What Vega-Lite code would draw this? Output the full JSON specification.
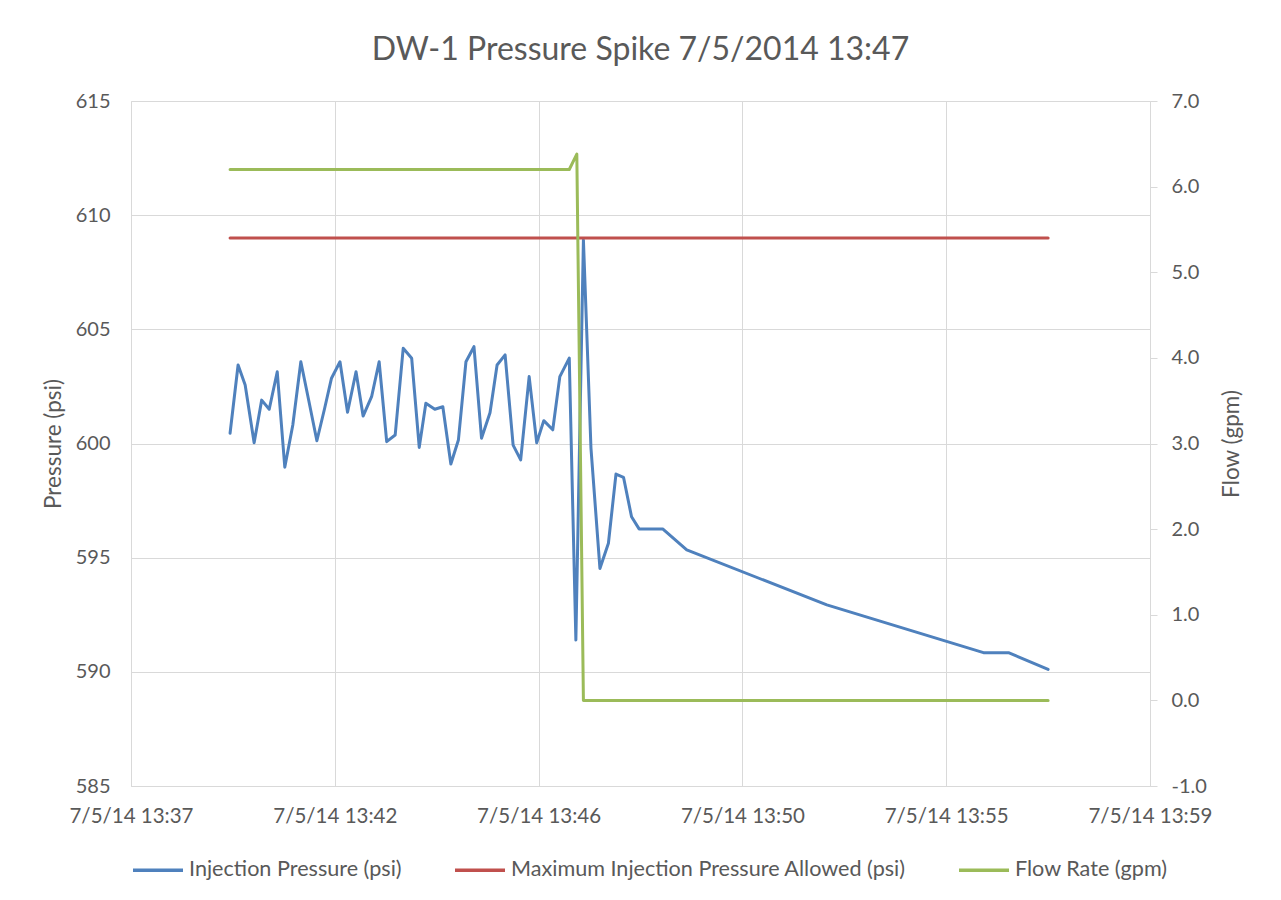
{
  "$schema": "https://vega.github.io/schema/vega-lite/v6.json",
  "width": 1019,
  "height": 685,
  "autosize": {"type": "none"},
  "padding": {"left": 131, "top": 101, "right": 131, "bottom": 114},
  "background": "white",
  "title": {
    "text": "DW-1 Pressure Spike 7/5/2014 13:47",
    "font": "Lato",
    "fontSize": 32,
    "fontWeight": "normal",
    "color": "#595959",
    "anchor": "middle",
    "offset": 24
  },
  "data": {
    "values": [
      {"series": "Injection Pressure (psi)", "t": 39.40, "v": 600.45},
      {"series": "Injection Pressure (psi)", "t": 39.57, "v": 603.44},
      {"series": "Injection Pressure (psi)", "t": 39.72, "v": 602.56},
      {"series": "Injection Pressure (psi)", "t": 39.91, "v": 600.03},
      {"series": "Injection Pressure (psi)", "t": 40.07, "v": 601.90},
      {"series": "Injection Pressure (psi)", "t": 40.23, "v": 601.50},
      {"series": "Injection Pressure (psi)", "t": 40.40, "v": 603.14},
      {"series": "Injection Pressure (psi)", "t": 40.56, "v": 598.96},
      {"series": "Injection Pressure (psi)", "t": 40.73, "v": 600.81},
      {"series": "Injection Pressure (psi)", "t": 40.90, "v": 603.58},
      {"series": "Injection Pressure (psi)", "t": 41.07, "v": 601.86},
      {"series": "Injection Pressure (psi)", "t": 41.24, "v": 600.12},
      {"series": "Injection Pressure (psi)", "t": 41.40, "v": 601.50},
      {"series": "Injection Pressure (psi)", "t": 41.55, "v": 602.86},
      {"series": "Injection Pressure (psi)", "t": 41.73, "v": 603.58},
      {"series": "Injection Pressure (psi)", "t": 41.89, "v": 601.37},
      {"series": "Injection Pressure (psi)", "t": 42.07, "v": 603.14},
      {"series": "Injection Pressure (psi)", "t": 42.22, "v": 601.20},
      {"series": "Injection Pressure (psi)", "t": 42.40, "v": 602.05},
      {"series": "Injection Pressure (psi)", "t": 42.56, "v": 603.58},
      {"series": "Injection Pressure (psi)", "t": 42.72, "v": 600.08},
      {"series": "Injection Pressure (psi)", "t": 42.90, "v": 600.37},
      {"series": "Injection Pressure (psi)", "t": 43.07, "v": 604.17},
      {"series": "Injection Pressure (psi)", "t": 43.25, "v": 603.73},
      {"series": "Injection Pressure (psi)", "t": 43.41, "v": 599.83},
      {"series": "Injection Pressure (psi)", "t": 43.55, "v": 601.76},
      {"series": "Injection Pressure (psi)", "t": 43.74, "v": 601.50},
      {"series": "Injection Pressure (psi)", "t": 43.91, "v": 601.61},
      {"series": "Injection Pressure (psi)", "t": 44.08, "v": 599.10},
      {"series": "Injection Pressure (psi)", "t": 44.24, "v": 600.15},
      {"series": "Injection Pressure (psi)", "t": 44.40, "v": 603.58},
      {"series": "Injection Pressure (psi)", "t": 44.57, "v": 604.24},
      {"series": "Injection Pressure (psi)", "t": 44.73, "v": 600.23},
      {"series": "Injection Pressure (psi)", "t": 44.91, "v": 601.35},
      {"series": "Injection Pressure (psi)", "t": 45.06, "v": 603.44},
      {"series": "Injection Pressure (psi)", "t": 45.23, "v": 603.88},
      {"series": "Injection Pressure (psi)", "t": 45.40, "v": 599.93},
      {"series": "Injection Pressure (psi)", "t": 45.56, "v": 599.28},
      {"series": "Injection Pressure (psi)", "t": 45.74, "v": 602.93},
      {"series": "Injection Pressure (psi)", "t": 45.90, "v": 600.03},
      {"series": "Injection Pressure (psi)", "t": 46.05, "v": 601.00},
      {"series": "Injection Pressure (psi)", "t": 46.24, "v": 600.60},
      {"series": "Injection Pressure (psi)", "t": 46.39, "v": 602.93},
      {"series": "Injection Pressure (psi)", "t": 46.59, "v": 603.74},
      {"series": "Injection Pressure (psi)", "t": 46.73, "v": 591.39},
      {"series": "Injection Pressure (psi)", "t": 46.89, "v": 608.91},
      {"series": "Injection Pressure (psi)", "t": 47.05, "v": 599.80},
      {"series": "Injection Pressure (psi)", "t": 47.24, "v": 594.53},
      {"series": "Injection Pressure (psi)", "t": 47.42, "v": 595.63},
      {"series": "Injection Pressure (psi)", "t": 47.58, "v": 598.66},
      {"series": "Injection Pressure (psi)", "t": 47.74, "v": 598.52},
      {"series": "Injection Pressure (psi)", "t": 47.91, "v": 596.79},
      {"series": "Injection Pressure (psi)", "t": 48.07, "v": 596.26},
      {"series": "Injection Pressure (psi)", "t": 48.57, "v": 596.26},
      {"series": "Injection Pressure (psi)", "t": 49.08, "v": 595.34},
      {"series": "Injection Pressure (psi)", "t": 52.05, "v": 592.93},
      {"series": "Injection Pressure (psi)", "t": 55.37, "v": 590.84},
      {"series": "Injection Pressure (psi)", "t": 55.90, "v": 590.84},
      {"series": "Injection Pressure (psi)", "t": 56.74, "v": 590.11},
      {"series": "Maximum Injection Pressure Allowed (psi)", "t": 39.40, "v": 609.0},
      {"series": "Maximum Injection Pressure Allowed (psi)", "t": 56.74, "v": 609.0},
      {"series": "Flow Rate (gpm)", "t": 39.40, "v": 6.2},
      {"series": "Flow Rate (gpm)", "t": 46.59, "v": 6.2},
      {"series": "Flow Rate (gpm)", "t": 46.75, "v": 6.38},
      {"series": "Flow Rate (gpm)", "t": 46.89, "v": 0.0},
      {"series": "Flow Rate (gpm)", "t": 56.74, "v": 0.0}
    ]
  },
  "encoding": {
    "x": {
      "field": "t",
      "type": "quantitative",
      "scale": {"domain": [37.3, 58.9], "nice": false, "zero": false},
      "axis": {
        "title": null,
        "values": [37.3, 41.62, 45.94, 50.26, 54.58, 58.9],
        "labelExpr": "'7/5/14 13:' + format(round(datum.value), '02d')",
        "grid": true,
        "ticks": false,
        "tickSize": 0,
        "labelPadding": 20,
        "labelFontSize": 20.5,
        "labelFlush": false,
        "labelOverlap": false
      }
    },
    "color": {
      "field": "series",
      "type": "nominal",
      "scale": {
        "domain": ["Injection Pressure (psi)", "Maximum Injection Pressure Allowed (psi)", "Flow Rate (gpm)"],
        "range": ["#4F81BD", "#C0504D", "#9BBB59"]
      },
      "legend": {
        "title": null,
        "orient": "bottom",
        "direction": "horizontal",
        "symbolType": "stroke",
        "symbolSize": 2500,
        "symbolStrokeWidth": 3.5,
        "labelFont": "Lato",
        "labelFontSize": 21.6,
        "labelColor": "#595959",
        "labelOffset": 4,
        "columnPadding": 46,
        "labelLimit": 600,
        "offset": 16
      }
    }
  },
  "layer": [
    {
      "transform": [{"filter": "datum.series !== 'Flow Rate (gpm)'"}],
      "mark": {"type": "line", "strokeWidth": 3, "strokeJoin": "round", "strokeCap": "round"},
      "encoding": {
        "y": {
          "field": "v",
          "type": "quantitative",
          "scale": {"domain": [585, 615], "nice": false, "zero": false},
          "axis": {
            "title": "Pressure (psi)",
            "values": [585, 590, 595, 600, 605, 610, 615],
            "grid": true,
            "ticks": false,
            "tickSize": 0,
            "labelPadding": 21,
            "titlePadding": 10
          }
        }
      }
    },
    {
      "transform": [{"filter": "datum.series === 'Flow Rate (gpm)'"}],
      "mark": {"type": "line", "strokeWidth": 3, "strokeJoin": "round", "strokeCap": "round"},
      "encoding": {
        "y": {
          "field": "v",
          "type": "quantitative",
          "scale": {"domain": [-1, 7], "nice": false, "zero": false},
          "axis": {
            "orient": "right",
            "title": "Flow (gpm)",
            "values": [-1, 0, 1, 2, 3, 4, 5, 6, 7],
            "labelExpr": "datum.value < 0 ? '-' + format(-datum.value, '.1f') : format(datum.value, '.1f')",
            "grid": false,
            "ticks": true,
            "tickSize": 7,
            "labelPadding": 14,
            "titleAngle": 270,
            "titleBaseline": "top",
            "titlePadding": 14
          }
        }
      }
    }
  ],
  "resolve": {"scale": {"y": "independent"}},
  "config": {
    "view": {"stroke": null},
    "axis": {
      "domainColor": "#d9d9d9",
      "domainWidth": 1,
      "gridColor": "#d9d9d9",
      "gridWidth": 1,
      "tickColor": "#d9d9d9",
      "labelFont": "Lato",
      "labelFontSize": 20,
      "labelColor": "#595959",
      "titleFont": "Lato",
      "titleFontSize": 22.5,
      "titleFontWeight": "normal",
      "titleColor": "#595959"
    }
  }
}
